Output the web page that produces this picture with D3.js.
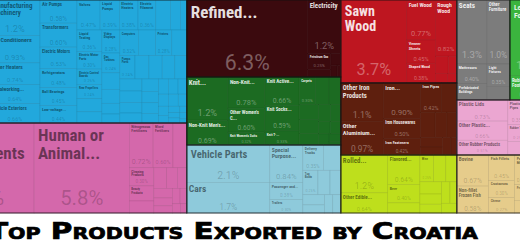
<!DOCTYPE html>
<html><head><meta charset="utf-8">
<script src="https://cdn.jsdelivr.net/npm/d3@7"></script>
<style>html,body{margin:0;padding:0;background:#fff;overflow:hidden}svg{display:block}</style>
</head><body><svg id="c" width="520" height="245"></svg>
<script>
// ---------------- DATA (share of exports, %) ----------------
// Machinery
const machHidden = [["Electrical Transformers",2.8],["Insulated Wire",2.27]];
const machCol1 = [["Manufacturing Machinery",1.2],["Air Conditioners",0.93],["Water Heaters",0.74],["Metalworking Machinery",0.64],["Vehicle Exteriors",0.66]];
const machCol2 = [["Air Pumps",0.58],["Transformers",0.6],["Electric Motors",0.53],["Refrigerators",0.48],["Ball Bearings",0.45],["Low-voltage Protection",0.44]];
const machTop = [["Valves",0.47],["Liquid Pumps",0.39],["Electric Heaters",0.38],["Electric Filament",0.36],["Centrifuges",0.3],["Pulley Systems",0.2],["Scales",0.13]];
const machRestA = [["Liquid Testing",0.36],["Electric Motor Parts",0.3],["Electric Control Boards",0.26],["Rear Propellers",0.24],["Engine Parts",0.22],["Electric Batteries",0.19]];
const machRestB = [["Video Displays",0.28],["Gas Turbines",0.24],["Lifting Machinery",0.2],["Industrial Printers",0.17],["Fork-Lifts",0.13],["Sewing Machines",0.11]];
const machRestC = [["Computers",0.32],["Electric Generators",0.3],["Printers",0.28],["Telephones",0.26],["Pumps Parts",0.24],["Soldering Equipment",0.22],["Excavation Machinery",0.21],["Industrial Fans",0.2],["Hand Tools",0.19],["Other Engines",0.18],["Washing Machines",0.17],["Office Machine Parts",0.16],["Spark-Ignition Engines",0.15],["Water Filters",0.14],["Heater Parts",0.13],["Furnaces",0.12],["Blowers",0.11],["Electric Lamps",0.1],["Cranes",0.1],["Dishwashers",0.09],["Insulators",0.08],["Capacitors",0.08],["Resistors",0.07],["Microphones",0.06],["Vacuum Cleaners",0.05],["Ovens",0.05],["Sound Recording",0.04],["Textile Machinery",0.04],["Looms",0.03],["Microwaves",0.03],["Fuses",0.02]];
// Chemical products
const chemBig = [["Packaged Medicaments",6.4],["Human or Animal...",5.8]];
const chemTop = [["Nitrogenous Fertilizers",0.72],["Mixed Fertilizers",0.6],["Perfumes",0.42]];
const chemSmall = [["Cleaning Products",0.3],["Beauty Products",0.25],["Paints",0.2],["Glues",0.18],["Soap",0.15],["Insecticides",0.13],["Hair Products",0.12],["Polishes",0.1],["Ammonia",0.09],["Vaccines",0.08],["Catalysts",0.07],["Nitric Acids",0.05],["Bandages",0.04]];
// Mineral products
const minBig = [["Refined...",6.3]];
const minElec = [["Electricity",1.2]];
const minSmall = [["Petroleum Gas",0.25],["Coal Tar Oil",0.12],["Petroleum Coke",0.08],["Crude Petroleum",0.05],["Asphalt",0.03]];
// Textiles
const texA = [["Knit...",1.2],["Non-Knit Men's...",0.69]];
const texB = [["Non-Knit...",0.78],["Other Women's C...",0.6],["Knit Women's Suits",0.32]];
const texC = [["Knit Active...",0.66],["Knit Socks...",0.59],["Knit T-...",0.33]];
const texSmall = [["Carpets",0.3],["Non-Knit Women's Shirts",0.25],["Knit Men's Suits",0.22],["Leather Apparel",0.2],["Synthetic Fabrics",0.18],["Bed Linens",0.15],["Knit Babies' Garments",0.14],["Non-Knit Active Wear",0.12],["Ties",0.1],["Coats",0.09],["Gloves",0.08],["Hats",0.06],["Yarn",0.03]];
// Transportation
const traA = [["Vehicle Parts",2.1],["Cars",1.72]];
const traB = [["Special Purpose...",0.84],["Passenger and...",0.38],["Trailers",0.3]];
const traSmall = [["Delivery Trucks",0.35],["Motorcycles",0.3],["Tug Boats",0.25],["Buses",0.2],["Railway Containers",0.18],["Aircraft Parts",0.15],["Bicycles",0.12],["Pleasure Boats",0.1],["Floating Docks",0.1]];
// Wood products
const woodBig = [["Sawn Wood",3.7]];
const woodA = [["Fuel Wood",0.77],["Veneer Sheets",0.45],["Shaped Wood",0.38]];
const woodB = [["Rough Wood",0.82]];
const woodSmall = [["Wood Carpentry",0.15],["Wooden Crates",0.1],["Other Wood Articles",0.08],["Wood Fiberboard",0.06]];
// Metals
const metA = [["Other Iron Products",1.1],["Other Aluminium Products",0.97]];
const metB = [["Iron...",0.9],["Iron Housewares",0.5],["Iron Fasteners",0.42]];
const metSmall = [["Iron Pipes",0.42],["Raw Aluminium",0.3],["Aluminium Plating",0.25],["Iron Wire",0.2],["Copper Wire",0.17],["Iron Springs",0.14],["Scrap Iron",0.12],["Iron Chain",0.1],["Aluminium Bars",0.07]];
// Foodstuffs
const foodA = [["Rolled...",1.2],["Other Edible Preparations",0.64]];
const foodB = [["Flavored...",0.64],["Beer",0.4],["Hard Liquor",0.22]];
const foodSmall = [["Wine",0.25],["Baked Goods",0.22],["Pasta",0.2],["Chocolate",0.18],["Sauces and Seasonings",0.15],["Coffee Extracts",0.13],["Animal Food",0.12],["Sugar",0.1],["Fruit Juice",0.1]];
// Miscellaneous (furniture)
const miscTop = [["Seats",1.3],["Other Furniture",1.0]];
const miscA = [["Mattresses",0.4],["Prefabricated Buildings",0.33]];
const miscB = [["Light Fixtures",0.35],["Toys",0.21]];
// Footwear
const footwear = [["Leather Footwear",1.9],["Rubber Footwear",0.61]];
// Plastics and rubbers
const plaA = [["Plastic Lids",0.73],["Other Plastic...",0.66],["Other Rubber Products",0.51]];
const plaSmall = [["Plastic Pipes",0.35],["Raw Plastic Sheeting",0.3],["Rubber Tires",0.25],["Polyacetals",0.2],["Plastic Housewares",0.16],["Rubber Belts",0.12],["Vinyl Chloride Polymers",0.08]];
// Animal products
const aniA = [["Bovine",0.67],["Non-fillet Frozen Fish",0.58]];
const aniB = [["Fish Fillets",0.45],["Crustaceans",0.3],["Cheese",0.27]];
const aniSmall = [["Poultry Meat",0.35],["Pig Meat",0.3],["Processed Fish",0.25],["Live Fish",0.2],["Eggs",0.17]];

const sectionColors = {
  machinery:"#22a8dc", chemicals:"#d468ab", minerals:"#3b0a0e", textiles:"#1c6b22",
  transport:"#8ecadb", wood:"#be1620", metals:"#5e1f0e", food:"#bedf1c",
  misc:"#7c7c7c", footwear:"#3bb43e", plastics:"#eba6d1", animal:"#e6cc8b"
};

// ---------------- STRUCTURE ----------------
const L = arr => arr.map(([name, value]) => ({name, value}));
const H = (...c) => ({dir:"h", children:c.flat()});
const V = (...c) => ({dir:"v", children:c.flat()});
const S = (...c) => ({dir:"s", children:c.flat()});
const sec = (key, node) => Object.assign(node, {section:key, color:sectionColors[key]});

const tree = H(
  V(
    sec("machinery", H(V(L(machHidden)), V(L(machCol1)), V(L(machCol2)),
        V(H(L(machTop)), H(V(L(machRestA)), V(L(machRestB)), S(L(machRestC)))))),
    sec("chemicals", H(L(chemBig), V(H(L(chemTop)), S(L(chemSmall)))))
  ),
  V(
    sec("minerals", H(L(minBig), V(L(minElec), S(L(minSmall))))),
    sec("textiles", H(V(L(texA)), V(L(texB)), V(L(texC)), S(L(texSmall)))),
    sec("transport", H(V(L(traA)), V(L(traB)), S(L(traSmall))))
  ),
  V(
    sec("wood", H(L(woodBig), H(V(L(woodA)), V(L(woodB), S(L(woodSmall)))))),
    sec("metals", H(V(L(metA)), V(L(metB)), S(L(metSmall)))),
    sec("food", H(V(L(foodA)), V(L(foodB)), S(L(foodSmall))))
  ),
  V(
    H(sec("misc", V(H(L(miscTop)), H(V(L(miscA)), V(L(miscB))))),
      sec("footwear", V(L(footwear)))),
    sec("plastics", H(V(L(plaA)), S(L(plaSmall)))),
    sec("animal", H(V(L(aniA)), V(L(aniB)), S(L(aniSmall))))
  )
);

// ---------------- LAYOUT ----------------
const mapW = 618, mapH = 213, offX = -71;
function tile(node, x0, y0, x1, y1) {
  const dir = node.data.dir;
  if (dir === "h") d3.treemapDice(node, x0, y0, x1, y1);
  else if (dir === "v") d3.treemapSlice(node, x0, y0, x1, y1);
  else d3.treemapSquarify(node, x0, y0, x1, y1);
}
const root = d3.hierarchy(tree).sum(d => d.children ? 0 : d.value);
d3.treemap().tile(tile).size([mapW, mapH])(root);

const svg = d3.select("#c");
const g = svg.append("g").attr("transform", `translate(${offX},0)`);

const colorOf = n => { let p = n; while (p && !p.data.color) p = p.parent; return p ? p.data.color : "#ccc"; };

const leaves = root.leaves();
g.selectAll("rect.leaf").data(leaves).join("rect").attr("class","leaf")
  .attr("x", d => d.x0).attr("y", d => d.y0)
  .attr("width", d => d.x1 - d.x0).attr("height", d => d.y1 - d.y0)
  .attr("fill", d => colorOf(d))
  .attr("stroke", d => d3.color(colorOf(d)).darker(0.4))
  .attr("stroke-width", 0.55);

const sections = root.descendants().filter(d => d.data.color);
g.selectAll("rect.sec").data(sections).join("rect").attr("class","sec")
  .attr("x", d => d.x0).attr("y", d => d.y0)
  .attr("width", d => d.x1 - d.x0).attr("height", d => d.y1 - d.y0)
  .attr("fill", "none").attr("stroke", "rgba(20,20,20,0.65)").attr("stroke-width", 1.2);

// ---------------- LABELS ----------------
const NAMEF = '"Liberation Sans Narrow","Roboto Condensed","DejaVu Sans Condensed",sans-serif';
const VALF = 'Roboto,"Open Sans",sans-serif';
const ctx = document.createElement("canvas").getContext("2d");
const tw = (t, fs, bold, fam) => { ctx.font = `${bold ? "bold " : ""}${fs}px ${fam}`; return ctx.measureText(t).width; };
function wrap(words, fs, maxW) {
  const lines = []; let cur = "";
  for (const w of words) {
    const t = cur ? cur + " " + w : w;
    if (tw(t, fs, true, NAMEF) <= maxW) cur = t;
    else { if (cur) lines.push(cur); cur = w; }
  }
  if (cur) lines.push(cur);
  return lines;
}
const fmt = v => (v >= 1 ? v.toFixed(1) : v.toFixed(2)) + "%";
const isLight = c => { const r = d3.rgb(c); return 0.299*r.r + 0.587*r.g + 0.114*r.b > 132; };

leaves.forEach(d => {
  const w = d.x1 - d.x0, h = d.y1 - d.y0;
  if (w < 11 || h < 8) return;
  const col = colorOf(d), light = isLight(col);
  const nameFill = light ? "rgba(0,0,0,0.5)" : "rgba(255,255,255,0.88)";
  const valFill = light ? "rgba(0,0,0,0.2)" : "rgba(255,255,255,0.35)";
  const area = w * h, sq = Math.sqrt(area);
  let fs = Math.min(17, sq * (sq < 45 ? 0.165 : 0.19));
  const pad = fs > 10 ? 4 : 2;
  const maxW = w - 2 * pad;
  const words = d.data.name.split(" ");
  let lines;
  while (fs >= 3) {
    lines = wrap(words, fs, maxW);
    if (lines.every(l => tw(l, fs, true, NAMEF) <= maxW)) break;
    fs -= 0.5;
  }
  if (fs < 3) return;
  const lh = fs * 1.08;
  const maxLines = Math.max(1, Math.floor(h * 0.5 / lh));
  if (lines.length > maxLines) {
    lines = lines.slice(0, maxLines);
    let last = lines[maxLines - 1].replace(/\.\.\.$/, "");
    while (last.length > 1 && tw(last + "...", fs, true, NAMEF) > maxW) last = last.slice(0, -1);
    lines[maxLines - 1] = last + "...";
  }
  const t = g.append("text").attr("font-family", NAMEF).attr("font-weight", "bold")
    .attr("font-size", fs).attr("fill", nameFill);
  lines.forEach((l, i) => t.append("tspan").attr("x", d.x0 + pad)
    .attr("y", d.y0 + pad + fs * 0.82 + i * lh).text(l));
  const labelBottom = d.y0 + pad + fs * 0.82 + (lines.length - 1) * lh + fs * 0.2;

  const vt = fmt(d.data.value);
  let fv = Math.min(23, sq * 0.22, h * 0.28);
  while (fv > 3 && tw(vt, fv, false, VALF) > w - 4) fv -= 0.5;
  const base = d.y1 - Math.max(2.5, h * 0.09);
  if (fv >= 3 && base - fv * 0.72 > labelBottom + 1) {
    g.append("text").attr("font-family", VALF).attr("font-size", fv)
      .attr("fill", valFill).attr("text-anchor", "middle")
      .attr("x", (d.x0 + d.x1) / 2).attr("y", base).text(vt);
  }
});

// ---------------- TITLE ----------------
svg.append("text").attr("x", -12).attr("y", 239)
  .attr("font-family", '"DejaVu Sans",sans-serif').attr("font-weight", 900)
  .attr("font-size", 23).style("font-variant", "small-caps")
  .attr("stroke", "#000").attr("stroke-width", 0.7)
  .attr("textLength", 490).attr("lengthAdjust", "spacingAndGlyphs")
  .attr("fill", "#000").text("Top Products Exported by Croatia");
</script></body></html>
